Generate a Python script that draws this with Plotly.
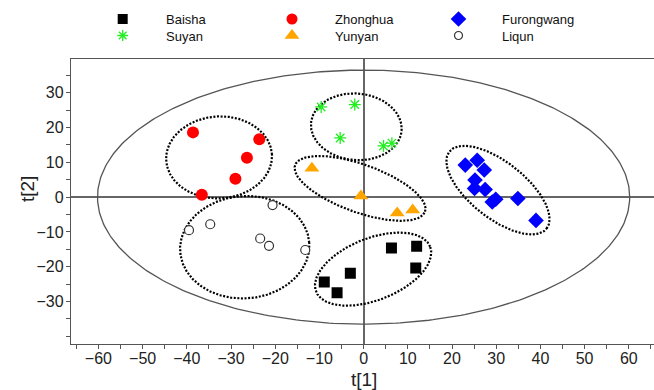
import numpy as np
import plotly.graph_objects as go

# ---- data (t[1], t[2] scores) ----
baisha_x = [-8.9, -6.0, -3.0, 6.3, 12.0, 11.8]
baisha_y = [-24.4, -27.5, -21.9, -14.6, -14.1, -20.4]

zhonghua_x = [-38.6, -23.6, -26.4, -29.0, -36.6]
zhonghua_y = [18.6, 16.6, 11.3, 5.3, 0.7]

furong_x = [23.0, 25.7, 27.3, 25.2, 25.1, 27.5, 29.9, 29.1, 34.9, 39.0]
furong_y = [9.2, 10.6, 7.8, 4.9, 2.5, 2.2, -0.6, -1.4, -0.4, -6.7]

suyan_x = [-9.6, -2.0, -5.3, 4.5, 6.4]
suyan_y = [25.9, 26.6, 17.0, 14.7, 15.5]

yunyan_x = [-11.7, -0.6, 7.6, 11.1]
yunyan_y = [8.3, 0.3, -4.6, -3.7]

liqun_x = [-20.6, -34.7, -39.5, -23.4, -21.4, -13.2]
liqun_y = [-2.3, -7.8, -9.5, -11.9, -14.0, -15.2]

# group confidence ellipses: centre (data units), semi-axes (screen px), tilt (deg)
ell_cx = [-32.7, -1.65, -0.8, -26.9, 2.15, 30.4]
ell_cy = [11.4, 20.2, 2.5, -14.4, -20.7, 2.0]
ell_a = [53, 45.5, 69, 64.7, 61.3, 62]
ell_b = [41, 33.3, 24, 51.2, 31, 28]
ell_ang = [3, -5, -19.7, 4, 21.5, -38.4]

# Hotelling T2 ellipse semi-axes (data units)
hot_a, hot_b = 60.2, 36.5

X_RANGE = [-66.2, 65.7]
Y_RANGE = [-42.3, 39.6]
W, H = 654, 390
P_L, P_R, P_T, P_B = 71, 654, 59.3, 344.3   # plot area in pixels
plot_w = P_R - P_L
plot_h = P_B - P_T
sx = plot_w / (X_RANGE[1] - X_RANGE[0])
sy = plot_h / (Y_RANGE[1] - Y_RANGE[0])

series = [
    ("Baisha", baisha_x, baisha_y, dict(symbol="square", size=11, color="black")),
    ("Zhonghua", zhonghua_x, zhonghua_y, dict(symbol="circle", size=12, color="#ff0000")),
    ("Furongwang", furong_x, furong_y, dict(symbol="diamond", size=12, color="#0000ff")),
    ("Suyan", suyan_x, suyan_y, dict(symbol="asterisk-open", size=10, color="#22ee22",
                                      line=dict(color="#22ee22", width=1.3))),
    ("Yunyan", yunyan_x, yunyan_y, dict(symbol="triangle-up", size=13, color="#ffa500")),
    ("Liqun", liqun_x, liqun_y, dict(symbol="circle", size=9, color="white",
                                     line=dict(color="#333333", width=1.2))),
]
legend_marker_size = {"Baisha": 10, "Zhonghua": 11, "Furongwang": 12, "Suyan": 9,
                      "Yunyan": 13, "Liqun": 8}
# legend layout (pixels)
leg_col_x = [122.7, 292.0, 458.5]
leg_row_y = [19.0, 35.5]
leg_text_gap = 41

fig = go.Figure()

t = np.linspace(0, 2 * np.pi, 400)
fig.add_trace(go.Scatter(x=hot_a * np.cos(t), y=hot_b * np.sin(t), mode="lines",
                         line=dict(color="#555555", width=1.3), showlegend=False,
                         hoverinfo="skip"))
for cx, cy, a, b, ang in zip(ell_cx, ell_cy, ell_a, ell_b, ell_ang):
    th = np.deg2rad(ang)
    px = a * np.cos(t) * np.cos(th) - b * np.sin(t) * np.sin(th)
    py = a * np.cos(t) * np.sin(th) + b * np.sin(t) * np.cos(th)
    fig.add_trace(go.Scatter(x=cx + px / sx, y=cy + py / sy, mode="lines",
                             line=dict(color="black", width=2.2, dash="2px,1.6px"),
                             showlegend=False, hoverinfo="skip"))

annotations = []
for i, (name, xs, ys, mk) in enumerate(series):
    fig.add_trace(go.Scatter(x=xs, y=ys, mode="markers", name=name, marker=mk,
                             showlegend=False))
    col, row = i % 3, i // 3
    lmk = dict(mk)
    lmk["size"] = legend_marker_size[name]
    fig.add_trace(go.Scatter(x=[leg_col_x[col]], y=[leg_row_y[row]], mode="markers",
                             marker=lmk, xaxis="x2", yaxis="y2", showlegend=False,
                             hoverinfo="skip"))
    annotations.append(dict(text=name, x=leg_col_x[col] + leg_text_gap,
                            y=leg_row_y[row] + 0.5, xref="x2", yref="y2",
                            xanchor="left", yanchor="middle", showarrow=False,
                            font=dict(size=13, color="#111111")))

annotations.append(dict(text="t[1]", x=0, xref="x", y=379.5, yref="y2", showarrow=False,
                        font=dict(size=19, color="#222222")))
annotations.append(dict(text="t[2]", x=27, xref="x2", y=189, yref="y2", showarrow=False,
                        textangle=-90, font=dict(size=19, color="#222222")))

axis_font = dict(family="Liberation Sans, Arial, sans-serif", size=16, color="#222222")
common = dict(showgrid=False, zeroline=True, zerolinecolor="#666666", zerolinewidth=1.5,
              showline=True, linecolor="#555555", linewidth=1.3, ticks="outside",
              ticklen=4, tickcolor="#555555", tickfont=axis_font)
fig.update_layout(
    width=W, height=H, margin=dict(l=0, r=0, t=0, b=0),
    plot_bgcolor="rgba(0,0,0,0)", paper_bgcolor="white", showlegend=False,
    font=dict(family="Liberation Sans, Arial, sans-serif", color="#111111"),
    xaxis=dict(range=X_RANGE, domain=[P_L / W, P_R / W], anchor="y", mirror=True,
               tickvals=list(range(-60, 61, 10)), ticklabelstandoff=-5,
               minor=dict(ticks="outside", ticklen=4, tickcolor="#555555", dtick=5,
                          tick0=0, showgrid=False), **common),
    yaxis=dict(range=Y_RANGE, domain=[(H - P_B) / H, (H - P_T) / H], anchor="x",
               mirror=False, tickvals=list(range(-30, 31, 10)), ticklabelstandoff=-1,
               minor=dict(ticks="outside", ticklen=4, tickcolor="#555555", dtick=5,
                          tick0=0, showgrid=False), **common),
    xaxis2=dict(range=[0, W], domain=[0, 1], anchor="y2", visible=False,
                fixedrange=True),
    yaxis2=dict(range=[H, 0], domain=[0, 1], anchor="x2", visible=False,
                fixedrange=True),
    annotations=annotations,
)

fig.write_html("out.html", config={"displayModeBar": False},
               post_script="document.body.style.margin='0';"
                           "document.body.style.padding='0';")
